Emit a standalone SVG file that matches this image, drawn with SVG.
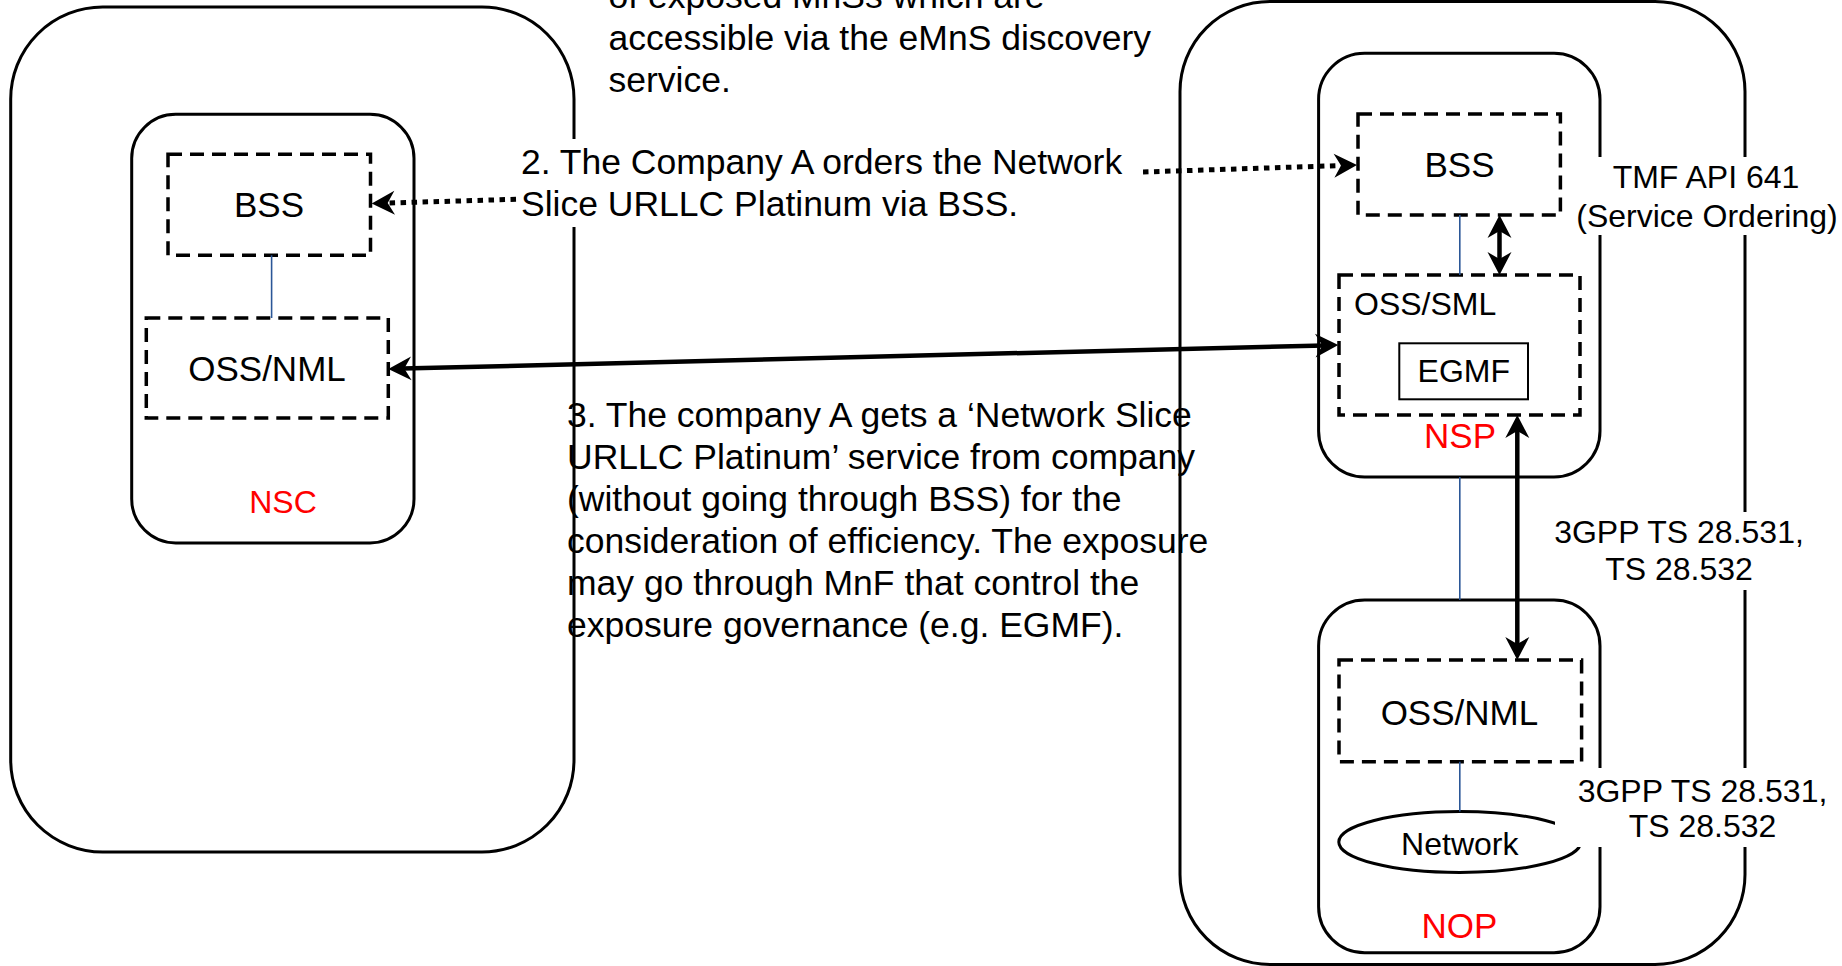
<svg xmlns="http://www.w3.org/2000/svg" width="1842" height="966" viewBox="0 0 1842 966">
<style>
.box{fill:none;stroke:#000;stroke-width:3}
.dash{fill:none;stroke:#000;stroke-width:3.5;stroke-dasharray:14 8}
.blue{fill:none;stroke:#2b5797;stroke-width:1.6}
.arr{fill:none;stroke:#000;stroke-width:4.5}
.dot{fill:none;stroke:#000;stroke-width:5;stroke-dasharray:5.5 5.5}
.bg{fill:#fff;stroke:none}
text{font-family:"Liberation Sans",Arial,Helvetica,sans-serif;fill:#000}
.p{font-size:35.5px}
.lb{font-size:35px;text-anchor:middle}
.sm{font-size:32px}
.red{fill:#ff0000}
.mid{text-anchor:middle}
</style>
<defs>
<marker id="ah" viewBox="-10 -13 25 26" refX="0" refY="0" markerWidth="25" markerHeight="26" markerUnits="userSpaceOnUse" orient="auto-start-reverse">
<path d="M14,0 L-9,-12 L-2,0 L-9,12 Z" fill="#000"/>
</marker>
</defs>
<rect width="1842" height="966" fill="#fff"/>

<g id="company-a">
<rect class="box" x="10.7" y="7" width="563.3" height="845" rx="92" ry="92"/>
</g>
<g id="company-b">
<rect class="box" x="1180" y="1.5" width="565" height="963" rx="90" ry="90"/>
</g>

<g id="nsc">
<rect class="box" x="131.7" y="114.3" width="282.3" height="428.6" rx="44" ry="44"/>
<text class="sm red mid" x="283" y="512.5">NSC</text>
</g>
<g id="bss-left">
<rect class="dash" x="168" y="154.3" width="202.5" height="101"/>
<text class="lb" x="269" y="217">BSS</text>
</g>
<g id="oss-nml-left">
<rect class="dash" x="146.3" y="318" width="242" height="100"/>
<text class="lb" x="267" y="381">OSS/NML</text>
</g>

<g id="nsp">
<rect class="box" x="1318.6" y="53.3" width="281.4" height="423.7" rx="46" ry="46"/>
<text class="lb red" x="1460" y="448">NSP</text>
</g>
<g id="bss-right">
<rect class="dash" x="1358" y="114" width="202.4" height="101"/>
<text class="lb" x="1459.5" y="177">BSS</text>
</g>
<g id="oss-sml">
<rect class="dash" x="1339" y="275" width="241" height="140"/>
<text class="sm" x="1354" y="315">OSS/SML</text>
</g>
<g id="egmf">
<rect fill="none" stroke="#000" stroke-width="2" x="1399.3" y="343.3" width="128.7" height="56"/>
<text class="sm mid" x="1463.8" y="381.7">EGMF</text>
</g>

<g id="nop">
<rect class="box" x="1318.6" y="600" width="281.4" height="352.7" rx="46" ry="46"/>
<text class="lb red" x="1459.5" y="938.3">NOP</text>
</g>
<g id="oss-nml-right">
<rect class="dash" x="1339" y="660" width="242.6" height="101.7"/>
<text class="lb" x="1459.4" y="724.5">OSS/NML</text>
</g>
<g id="network">
<ellipse fill="none" stroke="#000" stroke-width="3" cx="1459.8" cy="842" rx="121" ry="30.5"/>
<text class="sm mid" x="1459.8" y="855">Network</text>
</g>

<g id="text-discovery">
<text class="p" x="608.5" y="8">of exposed MnSs which are</text>
<text class="p" x="608.5" y="50">accessible via the eMnS discovery</text>
<text class="p" x="608.5" y="92">service.</text>
</g>

<g id="text-step3">
<text class="p" x="567" y="427">3. The company A gets a ‘Network Slice</text>
<text class="p" x="567" y="469">URLLC Platinum’ service from company</text>
<text class="p" x="567" y="511">(without going through BSS) for the</text>
<text class="p" x="567" y="553">consideration of efficiency. The exposure</text>
<text class="p" x="567" y="595">may go through MnF that control the</text>
<text class="p" x="567" y="637">exposure governance (e.g. EGMF).</text>
</g>

<g id="connectors">
<line class="blue" x1="271.6" y1="255.3" x2="271.6" y2="318"/>
<line class="blue" x1="1459.8" y1="215" x2="1459.8" y2="275"/>
<line class="blue" x1="1459.8" y1="477" x2="1459.8" y2="600"/>
<line class="blue" x1="1459.8" y1="761.7" x2="1459.8" y2="811.5"/>
<line class="dot" x1="560" y1="198" x2="385.7" y2="203.1" marker-end="url(#ah)"/>
<line class="dot" x1="1143" y1="172" x2="1343" y2="165.5" marker-end="url(#ah)"/>
<line class="arr" x1="402.3" y1="368.6" x2="1324.3" y2="345.4" marker-start="url(#ah)" marker-end="url(#ah)"/>
<line class="arr" x1="1499.5" y1="229" x2="1499.5" y2="261" marker-start="url(#ah)" marker-end="url(#ah)"/>
<line class="arr" x1="1517.3" y1="429" x2="1517.3" y2="646" marker-start="url(#ah)" marker-end="url(#ah)"/>
</g>

<g id="label-step2">
<rect class="bg" x="518" y="139" width="625" height="88"/>
<text class="p" x="521" y="174">2. The Company A orders the Network</text>
<text class="p" x="521" y="216">Slice URLLC Platinum via BSS.</text>
</g>
<g id="label-tmf">
<rect class="bg" x="1578" y="157" width="264" height="78"/>
<text class="sm mid" x="1706" y="188">TMF API 641</text>
<text class="sm mid" x="1707" y="226.7">(Service Ordering)</text>
</g>
<g id="label-3gpp-1">
<rect class="bg" x="1550" y="512" width="258" height="78"/>
<text class="sm mid" x="1679" y="543.3">3GPP TS 28.531,</text>
<text class="sm mid" x="1679" y="580">TS 28.532</text>
</g>
<g id="label-3gpp-2">
<rect class="bg" x="1555" y="768" width="287" height="79"/>
<text class="sm mid" x="1702.5" y="802">3GPP TS 28.531,</text>
<text class="sm mid" x="1702.5" y="837">TS 28.532</text>
</g>
</svg>
